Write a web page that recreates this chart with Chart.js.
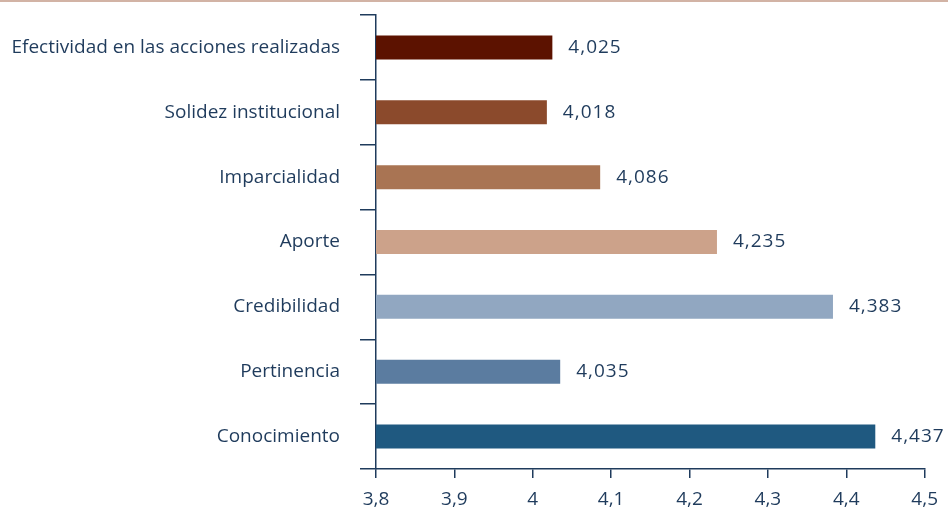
<!DOCTYPE html>
<html>
<head>
<meta charset="utf-8">
<script src="https://cdn.jsdelivr.net/npm/chart.js@4.4.0/dist/chart.umd.min.js"></script>
<style>
  html, body { margin: 0; padding: 0; background: #fff; }
  #wrap { position: relative; width: 948px; height: 513px; }
  #topline { position: absolute; left: 0; top: 0; width: 948px; height: 2px; background: #d2b3a5; }
</style>
</head>
<body>
<div id="wrap">
  <canvas id="myChart" width="948" height="513"></canvas>
  <div id="topline"></div>
</div>
<script>
const categories = ['Efectividad en las acciones realizadas', 'Solidez institucional', 'Imparcialidad', 'Aporte', 'Credibilidad', 'Pertinencia', 'Conocimiento'];
const values = [4.025, 4.018, 4.086, 4.235, 4.383, 4.035, 4.437];
const barColors = ['#5c1200', '#8b4a2c', '#a97453', '#cca28a', '#91a7c1', '#5b7ca0', '#1f5980'];

const navy = '#1f3b5c';
const fmt = v => v.toString().replace('.', ',');

// etiquetas de valor al final de cada barra
const valueLabels = {
    id: 'valueLabels',
    afterDatasetsDraw(chart) {
        const ctx = chart.ctx;
        const meta = chart.getDatasetMeta(0);
        ctx.save();
        ctx.font = '19px "Open Sans"';
        ctx.letterSpacing = '1px';
        ctx.fillStyle = navy;
        ctx.textAlign = 'left';
        ctx.textBaseline = 'middle';
        meta.data.forEach((bar, i) => {
            ctx.fillText(values[i].toFixed(3).replace('.', ','), bar.x + 16, bar.y);
        });
        ctx.restore();
    }
};

Chart.defaults.font.family = '"Open Sans"';
Chart.defaults.font.size = 19;
Chart.defaults.color = navy;

const ctx = document.getElementById('myChart').getContext('2d');
const myChart = new Chart(ctx, {
    type: 'bar',
    data: {
        labels: categories,
        datasets: [{
            data: values,
            backgroundColor: barColors,
            borderWidth: 0,
            barPercentage: 0.74,
            categoryPercentage: 0.5
        }]
    },
    options: {
        indexAxis: 'y',
        responsive: false,
        animation: false,
        layout: {
            padding: { top: 15, right: 22, left: 0, bottom: 0 }
        },
        plugins: {
            legend: { display: false },
            tooltip: { enabled: false }
        },
        scales: {
            x: {
                min: 3.8,
                max: 4.5,
                ticks: {
                    stepSize: 0.1,
                    padding: 10,
                    maxRotation: 0,
                    callback: v => fmt(Math.round(v * 10) / 10)
                },
                grid: {
                    drawOnChartArea: false,
                    drawTicks: true,
                    tickLength: 9,
                    color: navy,
                    lineWidth: 1.5
                },
                border: { color: navy, width: 1.5 },
                afterFit: s => { s.height = 44; }
            },
            y: {
                ticks: { padding: 20, autoSkip: false },
                grid: {
                    drawOnChartArea: false,
                    tickLength: 16,
                    color: navy,
                    lineWidth: 1.5
                },
                border: { color: navy, width: 1.5 },
                afterFit: s => {
                    s.width = 376;
                    s.paddingTop = 0;
                    s.paddingBottom = 0;
                }
            }
        }
    },
    plugins: [valueLabels]
});
</script>
</body>
</html>
